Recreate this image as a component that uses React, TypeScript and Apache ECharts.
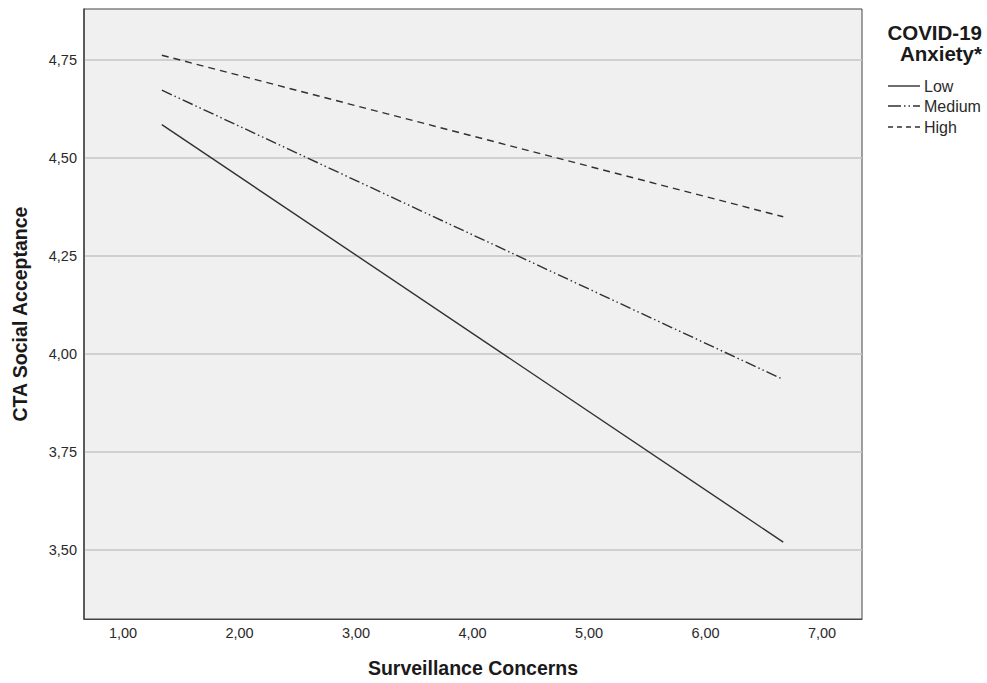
import React, { useEffect, useRef } from "react";
import * as echarts from "echarts";

const xValues = [1.333, 6.667];
const lowValues = [4.585, 3.52];
const mediumValues = [4.673, 3.935];
const highValues = [4.762, 4.35];
const seriesNames = ["Low", "Medium", "High"];
const yTicks = [3.5, 3.75, 4.0, 4.25, 4.5, 4.75];
const xTicks = [1, 2, 3, 4, 5, 6, 7];
const legendTitle = ["COVID-19", "Anxiety*"];
const xTitle = "Surveillance Concerns";
const yTitle = "CTA Social Acceptance";

const fmt = (v: number) => v.toFixed(2).replace(".", ",");
const FONT = "'Liberation Sans', Arial, sans-serif";

export default function App() {
  const ref = useRef<HTMLDivElement>(null);
  useEffect(() => {
    if (!ref.current) return;
    const chart = echarts.init(ref.current, null, { renderer: "svg" });
    const pairs = (ys: number[]) => xValues.map((x, i) => [x, ys[i]]);
    const lineColor = "#303030";
    const dashes: any[] = ["solid", [11, 3, 1.5, 3, 1.5, 3], [7, 5]];
    const legendDashes: (number[] | null)[] = [null, [13, 3, 1.5, 3, 1.5, 3], [5, 4]];
    const legendY = [86, 106, 127];
    const legendGraphics: any[] = [];
    seriesNames.forEach((name, i) => {
      legendGraphics.push({
        type: "line",
        shape: { x1: 888, y1: legendY[i], x2: 920, y2: legendY[i] },
        style: { stroke: lineColor, lineWidth: 1.4, lineDash: legendDashes[i] },
      });
      legendGraphics.push({
        type: "text",
        x: 924,
        y: legendY[i],
        style: {
          text: name,
          fontSize: 16,
          fill: "#2a2a2a",
          fontFamily: FONT,
          verticalAlign: "middle",
          textAlign: "left",
        },
      });
    });
    chart.setOption({
      animation: false,
      backgroundColor: "#ffffff",
      textStyle: { fontFamily: FONT },
      grid: {
        left: 84,
        right: 125,
        top: 9,
        bottom: 63,
        show: true,
        backgroundColor: "#f0f0f0",
        borderColor: "#444444",
        borderWidth: 1,
      },
      xAxis: {
        type: "value",
        min: 0.665,
        max: 7.343,
        name: xTitle,
        nameLocation: "middle",
        nameGap: 39,
        nameTextStyle: { fontSize: 19.5, fontWeight: "bold", color: "#1a1a1a", fontFamily: FONT },
        axisLine: { show: true, lineStyle: { color: "#444444" } },
        axisTick: { show: false, customValues: xTicks },
        axisLabel: {
          customValues: xTicks,
          formatter: (v: number) => fmt(v),
          fontSize: 14.5,
          color: "#2a2a2a",
          margin: 6,
          fontFamily: FONT,
        },
        splitLine: { show: false },
      },
      yAxis: {
        type: "value",
        min: 3.324,
        max: 4.88,
        name: yTitle,
        nameLocation: "middle",
        nameGap: 54,
        nameRotate: 90,
        nameTextStyle: { fontSize: 19.5, fontWeight: "bold", color: "#1a1a1a", fontFamily: FONT },
        axisLine: { show: true, lineStyle: { color: "#444444", width: 1.5 } },
        axisTick: { show: false, customValues: yTicks },
        axisLabel: {
          customValues: yTicks,
          formatter: (v: number) => fmt(v),
          fontSize: 14.5,
          color: "#2a2a2a",
          margin: 7,
          fontFamily: FONT,
        },
        splitLine: { show: true, lineStyle: { color: "#c6c6c6", width: 1.5 } },
      },
      graphic: [
        {
          type: "text",
          right: 5,
          top: 22,
          style: {
            text: legendTitle[0],
            fontSize: 20.5,
            fontWeight: "bold",
            fill: "#1a1a1a",
            fontFamily: FONT,
            textAlign: "right",
          },
        },
        {
          type: "text",
          right: 5,
          top: 43,
          style: {
            text: legendTitle[1],
            fontSize: 20.5,
            fontWeight: "bold",
            fill: "#1a1a1a",
            fontFamily: FONT,
            textAlign: "right",
          },
        },
        ...legendGraphics,
      ],
      series: seriesNames.map((name, i) => ({
        name,
        type: "line",
        symbol: "none",
        data: pairs([lowValues, mediumValues, highValues][i]),
        lineStyle: { color: lineColor, width: 1.4, type: dashes[i] },
        itemStyle: { color: lineColor },
      })),
    });
    return () => chart.dispose();
  }, []);
  return (
    <div
      ref={ref}
      style={{ position: "fixed", left: 0, top: 0, width: 987, height: 683 }}
    />
  );
}
